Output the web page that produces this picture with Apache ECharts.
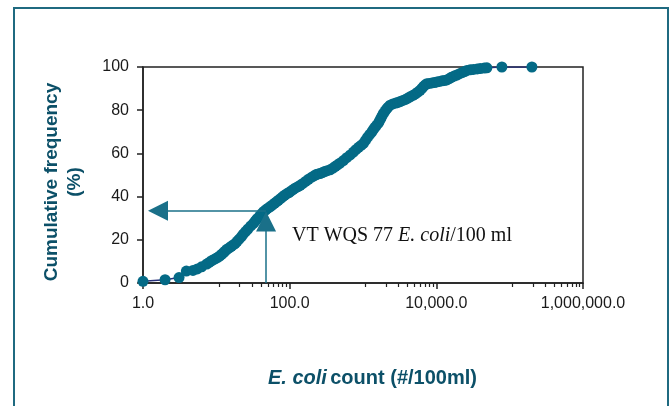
<!DOCTYPE html>
<html>
<head>
<meta charset="utf-8">
<script src="https://cdn.jsdelivr.net/npm/echarts@6/dist/echarts.min.js"></script>
<style>
  html, body { margin: 0; padding: 0; background: #fff; }
  #chart { width: 671px; height: 406px; }
</style>
</head>
<body>
<div id="chart"></div>
<script>
// E. coli count (#/100ml)
var ecoliCount = [1.0, 2.0, 3.1, 3.9, 4.8, 5.5, 6.3, 7.4, 8.0, 8.6, 9.3, 10, 10.6, 11.2, 11.8, 12.5, 13.2, 13.9, 15, 16, 17, 18, 19.2, 20.5, 22, 23.3, 25, 27, 29.5, 32, 34, 36, 39, 41.6,
  44, 47, 50, 54, 58, 62, 66, 70, 75, 80, 85, 91, 98, 105, 112, 120, 130, 139, 150, 165, 180, 200, 215, 230, 245, 260, 280, 300, 325, 356, 390, 420, 450, 487, 540, 600, 670, 740, 800, 870, 940,
  1012, 1080, 1150, 1230, 1318, 1380, 1450, 1530, 1622, 1680, 1750, 1820, 1897, 2000, 2100, 2200, 2342, 2550, 2800, 3000, 3208, 3500, 3800, 4100, 4393, 4800, 5200, 5600, 6012, 6350, 6700, 7050, 7417, 8000, 8700, 9400, 10160, 11000, 12000, 13000,
  13900, 15000, 16000, 17500, 19050, 20800, 22500, 24300, 26080, 29000, 32000, 36000, 39600, 45000, 48900, 78300, 201000];
// cumulative frequency (%)
var cumFreq = [0.8, 1.5, 2.5, 5.5, 5.8, 6.5, 7.5, 8.8, 9.5, 10.3, 10.9, 11.5, 12.0, 12.6, 13.3, 14.0, 14.8, 15.6, 16.3, 17.0, 17.6, 18.2, 19.3, 20.3, 21.5, 22.6, 23.8, 25.0, 26.4, 27.6, 28.7, 29.8, 31.0, 32.1,
  33.0, 33.8, 34.5, 35.3, 36.1, 36.9, 37.6, 38.3, 39.1, 39.9, 40.6, 41.3, 41.9, 42.6, 43.3, 44.0, 44.6, 45.2, 46.0, 47.0, 48.0, 49.0, 49.6, 50.2, 50.5, 50.7, 51.1, 51.6, 52.0, 52.4, 53.2, 54.0, 54.7, 55.5, 56.7, 58.0, 59.3, 60.6, 61.7, 62.8, 63.7,
  64.6, 66.0, 67.4, 68.7, 69.9, 71.0, 72.0, 73.0, 74.0, 75.1, 76.2, 77.4, 78.5, 79.6, 80.6, 81.4, 82.3, 82.9, 83.3, 83.6, 84.0, 84.5, 85.0, 85.6, 86.2, 86.9, 87.6, 88.4, 89.2, 90.1, 91.0, 91.7, 92.3, 92.4, 92.6, 92.8, 93.1, 93.3, 93.6, 93.8,
  94.0, 94.6, 95.2, 95.8, 96.3, 96.9, 97.4, 97.9, 98.4, 98.7, 98.9, 99.1, 99.3, 99.5, 99.6, 100, 100];
var yTicks = [0, 20, 40, 60, 80, 100];
var xTicks = [1, 100, 10000, 1000000];

// arrow annotation (data units)
var wqsX = 47.7;       // where the vertical arrow sits
var arrowY = 33.5;     // level of the horizontal arrow
var arrowTipX = 1.6;
var arrowTipY = 28.5;

var points = ecoliCount.map(function (v, i) { return [v, cumFreq[i]]; });

var teal = '#046a86';
var titleColor = '#0c5068';

var myChart = echarts.init(document.getElementById('chart'));
var option = {
  animation: false,
  grid: {
    left: 143, right: 88, top: 67, bottom: 123,
    show: true, borderColor: '#222', borderWidth: 1.5
  },
  xAxis: {
    type: 'log',
    logBase: 100,
    min: xTicks[0],
    max: xTicks[xTicks.length - 1],
    axisLine: { lineStyle: { color: '#222', width: 1.5 } },
    axisTick: { show: true, length: 6, lineStyle: { color: '#222', width: 1.5 } },
    minorTick: { show: true, splitNumber: 10, length: 4, lineStyle: { color: '#222', width: 1.2 } },
    splitLine: { show: false },
    axisLabel: {
      margin: 13,
      fontFamily: 'Liberation Sans', fontSize: 16, color: '#1a1a1a',
      formatter: function (v) {
        return Number(v).toLocaleString('en-US', { minimumFractionDigits: 1, maximumFractionDigits: 1 });
      }
    }
  },
  yAxis: {
    type: 'value',
    min: yTicks[0],
    max: yTicks[yTicks.length - 1],
    interval: 20,
    axisLine: { show: true, lineStyle: { color: '#222', width: 1.5 } },
    axisTick: { show: true, length: 6, lineStyle: { color: '#222', width: 1.5 } },
    splitLine: { show: false },
    axisLabel: { margin: 14, fontFamily: 'Liberation Sans', fontSize: 16, color: '#1a1a1a' }
  },
  series: [{
    type: 'line',
    data: points,
    symbol: 'circle',
    symbolSize: 11,
    showAllSymbol: true,
    itemStyle: { color: teal },
    lineStyle: { color: '#27307a', width: 1.5 },
    markLine: {
      silent: true,
      z: 10,
      symbol: ['none', 'triangle'],
      symbolSize: [20, 20],
      label: { show: false },
      lineStyle: { color: '#1a7089', width: 1.5, type: 'solid' },
      itemStyle: { color: teal },
      data: [
        [{ coord: [wqsX, arrowY] }, { coord: [arrowTipX, arrowY] }],
        [{ coord: [wqsX, 0] }, { coord: [wqsX, arrowTipY] }]
      ]
    }
  }],
  graphic: [
    {
      type: 'rect',
      shape: { x: 14, y: 8, width: 654, height: 420 },
      style: { fill: 'none', stroke: '#1f6a80', lineWidth: 2 }
    },
    {
      type: 'text',
      left: 292, top: 226,
      style: {
        text: '{b|VT WQS 77 }{i|E. coli}{b|/100 ml}',
        rich: {
          b: { fontFamily: 'Liberation Serif', fontSize: 20, fill: '#111' },
          i: { fontFamily: 'Liberation Serif', fontSize: 20, fontStyle: 'italic', fill: '#111' }
        }
      }
    },
    {
      type: 'text',
      left: 268, top: 368,
      style: {
        text: '{i|E. coli} {b|count (#/100ml)}',
        rich: {
          i: { fontFamily: 'Liberation Sans', fontSize: 20, fontWeight: 'bold', fontStyle: 'italic', fill: titleColor },
          b: { fontFamily: 'Liberation Sans', fontSize: 20, fontWeight: 'bold', fill: titleColor }
        }
      }
    },
    {
      type: 'text',
      x: 63, y: 182,
      rotation: Math.PI / 2,
      style: {
        text: 'Cumulative frequency\n(%)',
        align: 'center', verticalAlign: 'middle',
        fontFamily: 'Liberation Sans', fontSize: 19, fontWeight: 'bold',
        lineHeight: 23, fill: titleColor
      }
    }
  ]
};
myChart.setOption(option);
</script>
</body>
</html>
